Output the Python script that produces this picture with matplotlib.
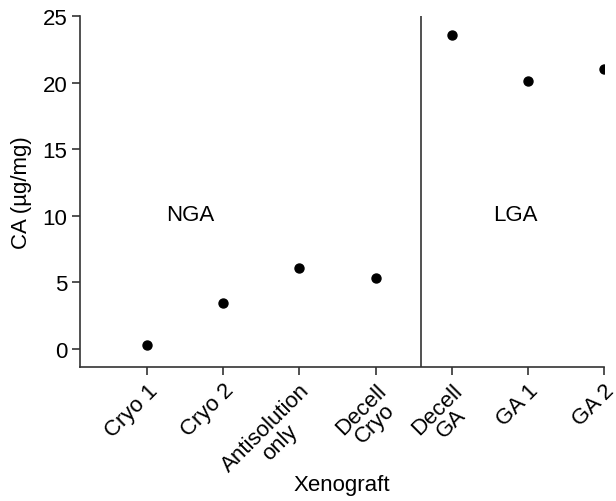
import matplotlib
matplotlib.use("Agg")
import matplotlib.pyplot as plt
import numpy as np

plt.rcParams['font.family'] = ['Liberation Sans', 'DejaVu Sans']

# data
groups = ["Cryo 1", "Cryo 2", "Antisolution\nonly", "Decell\nCryo", "Decell\nGA", "GA 1", "GA 2"]
ca = [0.3, 3.45, 6.05, 5.35, 23.6, 20.1, 21.0]
region_labels = ["NGA", "LGA"]
region_pos = [0.57, 4.84]
split_at = 3.6

fig = plt.figure(figsize=(6.16, 5.02), dpi=100)
ax = fig.add_axes([0.13, 0.267, 0.8505, 0.699])

x = np.arange(len(groups))
ax.scatter(x, ca, color="black", s=42, zorder=3)
ax.axvline(split_at, color="#333333", lw=1.2)
for lab, px in zip(region_labels, region_pos):
    ax.text(px, 10.1, lab, fontsize=16, ha="center", va="center")

ax.set_xlim(-0.88, 6)
ax.set_ylim(-1.35, 25)
ax.set_yticks([0, 5, 10, 15, 20, 25])
ax.set_xticks(x)
ax.set_xticklabels(groups, rotation=45, ha="right", rotation_mode="anchor",
                   multialignment="center", linespacing=0.95)
ax.tick_params(labelsize=16, length=6, width=1.2, color="#333333", pad=3)
for s in ["top", "right"]:
    ax.spines[s].set_visible(False)
for s in ["left", "bottom"]:
    ax.spines[s].set_color("#333333")
    ax.spines[s].set_linewidth(1.2)

ax.set_ylabel("CA (\u00b5g/mg)", fontsize=16, labelpad=8)
ax.set_xlabel("Xenograft", fontsize=16)
ax.xaxis.set_label_coords(0.5, -0.305)

fig.savefig("out.png", dpi=100)
